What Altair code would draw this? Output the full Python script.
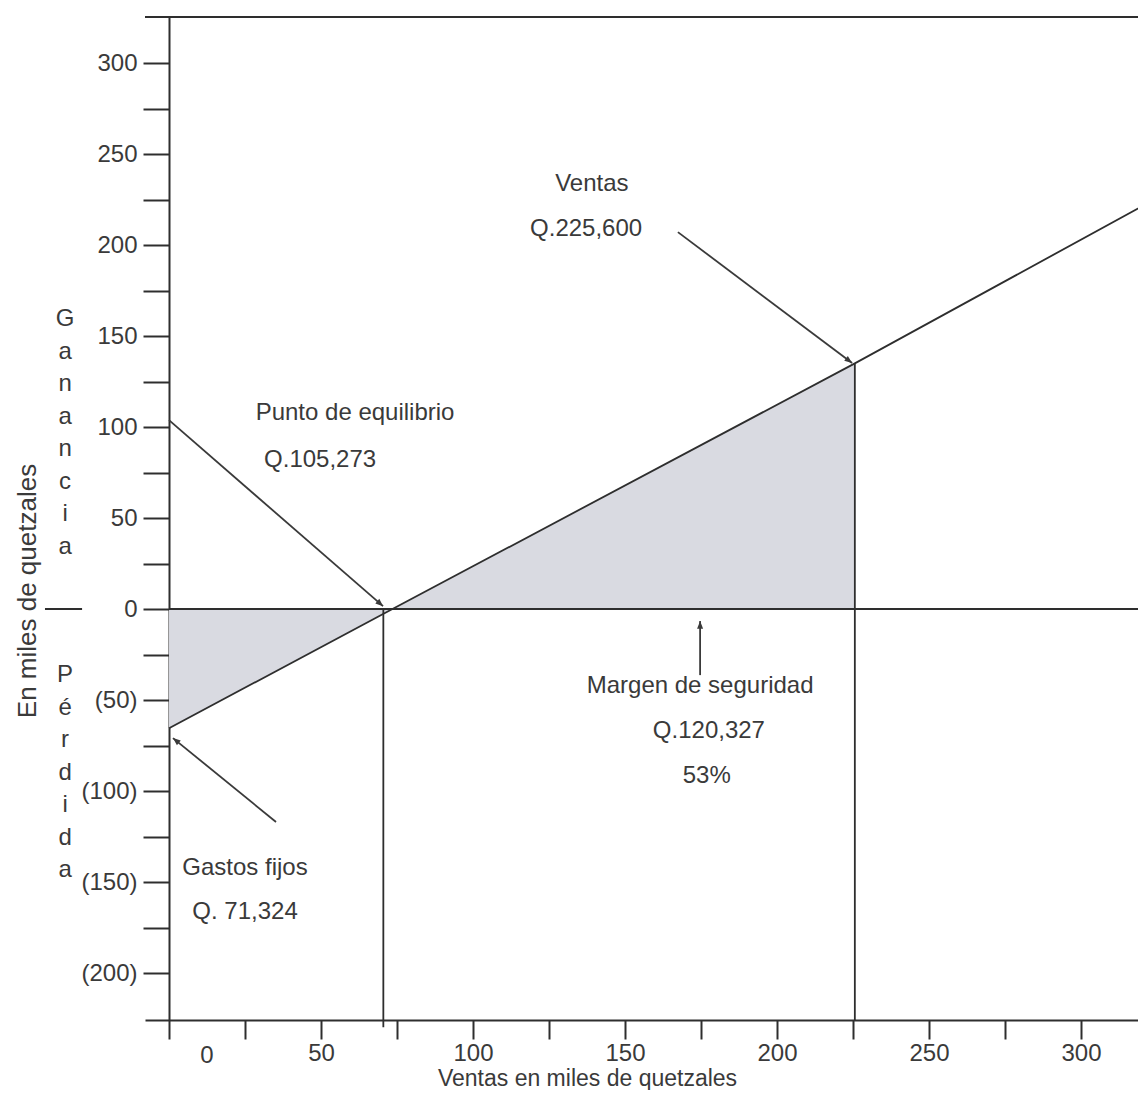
import math
import altair as alt
import pandas as pd

# ---------------- data ----------------
# profit line: sales (thousand Q) vs. profit / loss (thousand Q)
profit_x = [0, 73.5, 225.6, 321.4]
profit_y = [-65.5, 0, 135, 222.5]

breakeven_x = 70.5      # vertical line at the break-even point
sales_x = 225.6         # vertical line at actual sales
sales_y = 135

x_tick_values = list(range(0, 301, 25))
x_label_values = [50, 100, 150, 200, 250, 300]
x_label_texts = ["50", "100", "150", "200", "250", "300"]
x_zero_label = "0"
x_zero_label_pos = 12.5

y_tick_values = list(range(-200, 301, 25))
y_label_values = [300, 250, 200, 150, 100, 50, 0, -50, -100, -150, -200]
y_label_texts = ["300", "250", "200", "150", "100", "50", "0\u00a0\u00a0\u2009",
                 "(50)", "(100)", "(150)", "(200)"]

note_texts = ["Ventas", "Q.225,600", "Punto de equilibrio", "Q.105,273",
              "Margen de seguridad", "Q.120,327", "53%", "Gastos fijos", "Q. 71,324"]
note_x = [139.1, 137.2, 61.2, 49.7, 174.7, 177.6, 176.9, 25.0, 25.0]
note_y = [233.5, 208.8, 107.7, 81.9, -42.3, -67.0, -91.8, -142.3, -166.5]

# arrows: tail -> tip
arrow_tail_x = [0.0, 167.4, 174.7, 35.2]
arrow_tail_y = [103.8, 207.1, -36.3, -117.0]
arrow_tip_x = [70.4, 224.7, 174.7, 1.3]
arrow_tip_y = [1.6, 135.2, -6.6, -70.9]

gain_word = "Ganancia"
loss_word = "Pérdida"
y_title = "En miles de quetzales"
x_title = "Ventas en miles de quetzales"

# ---------------- layout ----------------
KX, KY = 3.04, 1.82          # pixels per unit
W, H = 993, 1003
XMIN = -7.9
XMAX = XMIN + W / KX
YMAX = 325.3
YMIN = YMAX - H / KY

FONT = "Liberation Sans"
TXT = "#3a3a3a"
LINE = "#2e2e2e"
FILL = "#d9dae1"
FS = 24

xs = alt.Scale(domain=[XMIN, XMAX], nice=False, zero=False)
ys = alt.Scale(domain=[YMIN, YMAX], nice=False, zero=False)


def ternary(values, texts):
    expr = "''"
    for v, t in reversed(list(zip(values, texts))):
        expr = f"datum.value == {v} ? '{t}' : ({expr})"
    return expr


x_axis = alt.Axis(values=x_tick_values, labelExpr=ternary(x_label_values, x_label_texts),
                  tickSize=19, tickWidth=2, tickColor=LINE, domainColor=LINE, domainWidth=2,
                  labelFont=FONT, labelFontSize=FS, labelColor=TXT, labelPadding=2,
                  labelFlush=False, labelOverlap=False, grid=False,
                  title=x_title, titleFont=FONT, titleFontSize=23, titleFontWeight="normal",
                  titleColor=TXT, titleX=442, titleY=65, titleBaseline="alphabetic")
y_axis = alt.Axis(values=y_tick_values, labelExpr=ternary(y_label_values, y_label_texts),
                  tickSize=26, tickWidth=2, tickColor=LINE, domainColor=LINE, domainWidth=2,
                  offset=-round(-XMIN * KX), labelFont=FONT, labelFontSize=FS, labelColor=TXT,
                  labelPadding=6, labelFlush=False, labelOverlap=False, grid=False, title=None)


def X(f):
    return alt.X(f, type="quantitative", scale=xs, axis=x_axis)


def Y(f):
    return alt.Y(f, type="quantitative", scale=ys, axis=y_axis)


line_df = pd.DataFrame({"x": profit_x, "y": profit_y, "base": 0.0})
area = alt.Chart(line_df.iloc[:3]).mark_area(color=FILL, opacity=1).encode(
    x=X("x"), y=Y("y"), y2=alt.Y2("base"))
line = alt.Chart(line_df).mark_line(color=LINE, strokeWidth=1.8, clip=True).encode(
    x=X("x"), y=Y("y"))

# rules: zero line, top border, separator dash, two verticals
rules_df = pd.DataFrame({
    "x": [0, XMIN, -40.8, breakeven_x, sales_x],
    "x2": [XMAX, XMAX, -28.6, breakeven_x, sales_x],
    "y": [0, YMAX, 0, 0, sales_y],
    "y2": [0, YMAX, 0, YMIN - 4, YMIN],
    "w": [2, 2, 2, 1.8, 1.8],
})
rules = alt.Chart(rules_df).mark_rule(color=LINE).encode(
    x=X("x"), x2="x2", y=Y("y"), y2="y2", strokeWidth=alt.StrokeWidth("w", scale=None))

arr_df = pd.DataFrame({"tx": arrow_tail_x, "ty": arrow_tail_y, "hx": arrow_tip_x, "hy": arrow_tip_y})
arr_df["angle"] = [
    (math.degrees(math.atan2((hx - tx) * KX, (hy - ty) * KY)) + 360) % 360
    for tx, ty, hx, hy in zip(arrow_tail_x, arrow_tail_y, arrow_tip_x, arrow_tip_y)
]
shafts = alt.Chart(arr_df).mark_rule(color="#3a3a3a", strokeWidth=1.8).encode(
    x=X("tx"), x2="hx", y=Y("ty"), y2="hy")
heads = alt.Chart(arr_df).mark_point(
    shape="M0,0 L-0.4,1 L0.4,1 Z", filled=True, opacity=1, color="#3a3a3a", size=230,
    strokeWidth=0).encode(x=X("hx"), y=Y("hy"), angle=alt.Angle("angle", scale=None))

notes_df = pd.DataFrame({"x": note_x + [x_zero_label_pos], "y": note_y + [YMIN - 20.0],
                         "t": note_texts + [x_zero_label]})
notes = alt.Chart(notes_df).mark_text(font=FONT, fontSize=FS, color=TXT, align="center",
                                      baseline="middle").encode(x=X("x"), y=Y("y"), text="t")

letters_df = pd.DataFrame({"x": [-34.2, -34.2], "y": [165.9, -29.7],
                           "t": ["\n".join(gain_word), "\n".join(loss_word)]})
letters = alt.Chart(letters_df).mark_text(font=FONT, fontSize=FS, color=TXT, align="center",
                                          baseline="top", lineBreak="\n", lineHeight=32.5).encode(
    x=X("x"), y=Y("y"), text="t")

ytitle_df = pd.DataFrame({"x": [-46.4], "y": [9.9], "t": [y_title]})
ytitle = alt.Chart(ytitle_df).mark_text(font=FONT, fontSize=26, color=TXT, angle=270,
                                        align="center", baseline="middle").encode(
    x=X("x"), y=Y("y"), text="t")

chart = alt.layer(area, line, rules, shafts, heads, notes, letters, ytitle).properties(
    width=W, height=H,
    padding={"left": 137, "top": 9, "right": 0, "bottom": 70},
    autosize=alt.AutoSizeParams(type="none"),
    background="white",
).configure_view(stroke=None)

chart.save("out.html", embed_options={"renderer": "svg", "actions": False})
